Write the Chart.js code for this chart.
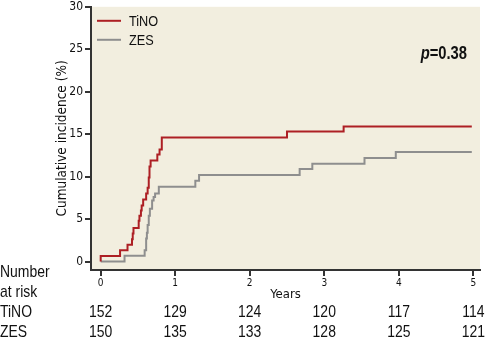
<!DOCTYPE html>
<html>
<head>
<meta charset="utf-8">
<script src="https://cdn.jsdelivr.net/npm/chart.js@4.4.1/dist/chart.umd.min.js"></script>
<style>
  html, body { margin: 0; padding: 0; background: #ffffff; }
  #wrap { width: 485px; height: 343px; }
</style>
</head>
<body>
<div id="wrap"><canvas id="chart" width="485" height="343"></canvas></div>
<script>
// Kaplan-Meier style cumulative incidence
const tinoYears = [0, 0, 0.26, 0.36, 0.42, 0.43, 0.44, 0.51, 0.52, 0.54, 0.55, 0.57, 0.61, 0.63, 0.645, 0.655, 0.67, 0.76, 0.79, 0.82, 2.50, 3.26, 4.98];
const tinoIncidence = [0, 0.66, 1.32, 1.97, 2.63, 3.29, 3.95, 4.8, 5.4, 6.0, 6.6, 7.3, 8.0, 8.7, 9.9, 11.2, 11.9, 12.6, 13.2, 14.6, 15.3, 15.9, 15.9];

const zesYears = [0, 0.32, 0.59, 0.61, 0.62, 0.63, 0.645, 0.66, 0.69, 0.71, 0.73, 0.78, 1.27, 1.32, 2.67, 2.84, 3.54, 3.96, 4.98];
const zesIncidence = [0, 0.67, 1.33, 2.7, 3.4, 4.3, 5.4, 6.2, 7.2, 7.6, 8.0, 8.8, 9.5, 10.2, 10.9, 11.5, 12.2, 12.9, 12.9];

const xTicks = [0, 1, 2, 3, 4, 5];
const yTicks = [0, 5, 10, 15, 20, 25, 30];

// number at risk at each year tick
const tinoAtRisk = [152, 129, 124, 120, 117, 114];
const zesAtRisk = [150, 135, 133, 128, 125, 121];

const pValue = '0.38';

const FONT = '"DejaVu Sans Condensed", "Liberation Sans Narrow", sans-serif';
const NARROW = '"Liberation Sans", Arial, sans-serif'; // squeezed horizontally when drawn
const RED = '#ad1f24';
const GREY = '#8e8e8e';
const AXIS = '#333333';

function toPoints(xs, ys) {
    return xs.map((x, i) => ({ x: x, y: ys[i] }));
}

// draw text squeezed to look like a condensed face
function narrowText(ctx, text, x, y, align) {
    ctx.save();
    ctx.translate(x, y);
    ctx.scale(0.82, 1);
    ctx.textAlign = align || 'left';
    ctx.fillText(text, 0, 0);
    ctx.restore();
}

// beige plot background
const plotBackground = {
    id: 'plotBackground',
    beforeDraw(chart) {
        const { ctx, chartArea: a } = chart;
        ctx.save();
        ctx.fillStyle = '#f2eedf';
        ctx.fillRect(a.left, a.top, a.right - a.left, a.bottom - a.top);
        ctx.restore();
    }
};

// legend, p value and risk table
const annotations = {
    id: 'annotations',
    afterDraw(chart) {
        const { ctx, chartArea: a } = chart;
        const xs = chart.scales.x;
        ctx.save();
        ctx.fillStyle = '#111';

        // legend in the top-left of the plot
        chart.data.datasets.forEach((ds, i) => {
            const y = a.top + 14 + i * 19;
            ctx.strokeStyle = ds.borderColor;
            ctx.lineWidth = 2;
            ctx.beginPath();
            ctx.moveTo(a.left + 6, y);
            ctx.lineTo(a.left + 30, y);
            ctx.stroke();
            ctx.font = '15.5px ' + NARROW;
            ctx.textBaseline = 'middle';
            narrowText(ctx, ds.label, a.left + 38, y + 1, 'left');
        });

        // p value
        ctx.textBaseline = 'alphabetic';
        const sq = 0.82;
        ctx.font = 'bold 18px ' + NARROW;
        const rest = '=' + pValue;
        const restW = ctx.measureText(rest).width * sq;
        ctx.font = 'italic bold 18px ' + NARROW;
        const pW = ctx.measureText('p').width * sq;
        const px = 467 - restW - pW;
        narrowText(ctx, 'p', px, 59, 'left');
        ctx.font = 'bold 18px ' + NARROW;
        narrowText(ctx, rest, px + pW, 59, 'left');

        // number at risk
        ctx.font = '17px ' + NARROW;
        narrowText(ctx, 'Number', 0, 277, 'left');
        narrowText(ctx, 'at risk', 0, 297, 'left');
        narrowText(ctx, 'TiNO', 0, 317, 'left');
        narrowText(ctx, 'ZES', 0, 337, 'left');
        xTicks.forEach((t, i) => {
            const x = xs.getPixelForValue(t);
            narrowText(ctx, String(tinoAtRisk[i]), x, 317, 'center');
            narrowText(ctx, String(zesAtRisk[i]), x, 337, 'center');
        });
        ctx.restore();
    }
};

new Chart(document.getElementById('chart').getContext('2d'), {
    type: 'scatter',
    data: {
        datasets: [
            {
                label: 'TiNO',
                data: toPoints(tinoYears, tinoIncidence),
                showLine: true,
                stepped: true,
                borderColor: RED,
                borderWidth: 2,
                pointRadius: 0,
                fill: false
            },
            {
                label: 'ZES',
                data: toPoints(zesYears, zesIncidence),
                showLine: true,
                stepped: true,
                borderColor: GREY,
                borderWidth: 2,
                pointRadius: 0,
                fill: false
            }
        ]
    },
    options: {
        responsive: false,
        animation: false,
        layout: { padding: { left: 0, top: 5, right: 5, bottom: 0 } },
        plugins: {
            legend: { display: false },
            tooltip: { enabled: false }
        },
        scales: {
            x: {
                type: 'linear',
                min: -0.13,
                max: 5.09,
                afterBuildTicks: s => { s.ticks = xTicks.map(v => ({ value: v })); },
                afterFit: s => { s.height = 73; },
                grid: { drawOnChartArea: false, drawTicks: true, tickLength: 6, color: AXIS, lineWidth: 2 },
                border: { color: AXIS, width: 2 },
                ticks: { color: '#111', font: { family: FONT, size: 10, lineHeight: 1 }, padding: 2, maxRotation: 0 },
                title: {
                    display: true,
                    text: 'Years',
                    color: '#111',
                    font: { family: FONT, size: 13 },
                    padding: { top: 0, bottom: 41 }
                }
            },
            y: {
                min: -1,
                max: 30,
                afterBuildTicks: s => { s.ticks = yTicks.map(v => ({ value: v })); },
                afterFit: s => { s.width = 91; },
                grid: { drawOnChartArea: false, drawTicks: true, tickLength: 6, color: AXIS, lineWidth: 2 },
                border: { color: AXIS, width: 2 },
                ticks: { color: '#111', font: { family: FONT, size: 12, lineHeight: 0.8 }, padding: 2 },
                title: {
                    display: true,
                    text: 'Cumulative incidence (%)',
                    color: '#111',
                    font: { family: FONT, size: 13.5 },
                    padding: { top: 54, bottom: 0 }
                }
            }
        }
    },
    plugins: [plotBackground, annotations]
});
</script>
</body>
</html>
